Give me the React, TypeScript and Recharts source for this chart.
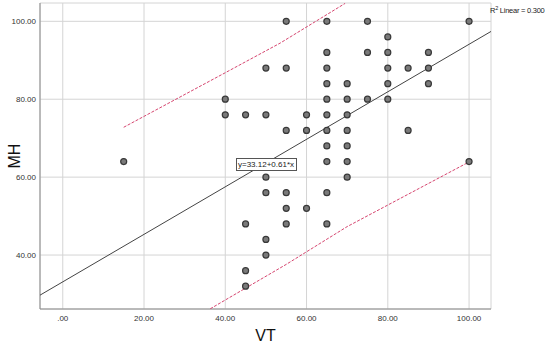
import {
  CartesianGrid,
  Scatter,
  ScatterChart,
  XAxis,
  YAxis,
} from "recharts";

// observed points (VT, MH) read column by column
const VT = [
  15,
  40, 40,
  45, 45, 45, 45,
  50, 50, 50, 50, 50, 50,
  55, 55, 55, 55, 55, 55,
  60, 60, 60,
  65, 65, 65, 65, 65, 65, 65, 65, 65, 65, 65,
  70, 70, 70, 70, 70, 70, 70,
  75, 75, 75,
  80, 80, 80, 80, 80,
  85, 85,
  90, 90, 90,
  100, 100,
];
const MH = [
  64,
  80, 76,
  76, 48, 36, 32,
  88, 76, 60, 56, 44, 40,
  100, 88, 72, 56, 52, 48,
  76, 72, 52,
  100, 92, 88, 84, 80, 76, 72, 68, 64, 56, 48,
  84, 80, 76, 72, 68, 64, 60,
  100, 92, 80,
  96, 92, 88, 84, 80,
  88, 72,
  92, 88, 84,
  100, 64,
];

// fit line (y=33.12+0.61*x) end points across the plot
const FIT_X = [-5.6, 105.4];
const FIT_Y = [29.7, 97.4];

// 95% individual prediction band
const UPPER_X = [15, 40, 53.5, 69.5];
const UPPER_Y = [72.8, 86.8, 94.4, 104.6];
const LOWER_X = [36.3, 55, 70, 100];
const LOWER_Y = [26.2, 37.6, 47.3, 63.9];

const X_TICKS = [0, 20, 40, 60, 80, 100];
const Y_TICKS = [40, 60, 80, 100];

const zip = (xs: number[], ys: number[]) => xs.map((x, i) => ({ x, y: ys[i] }));

const points = zip(VT, MH);
const fit = zip(FIT_X, FIT_Y);
const upper = zip(UPPER_X, UPPER_Y);
const lower = zip(LOWER_X, LOWER_Y);

const FONT = "'Liberation Sans', Arial, sans-serif";
const fmt = (v: number) => (v === 0 ? ".00" : v.toFixed(2));
const noShape = () => <g />;

const Dot = (props: any) => (
  <circle
    cx={props.cx}
    cy={props.cy}
    r={3}
    fill="#7a7a7a"
    stroke="#383838"
    strokeWidth={1.2}
  />
);

export default function App() {
  return (
    <div
      style={{
        position: "absolute",
        left: 0,
        top: 0,
        width: 550,
        height: 344,
        background: "#fff",
        fontFamily: FONT,
      }}
    >
      <ScatterChart
        width={550}
        height={344}
        margin={{ top: 3, right: 59, bottom: 0, left: 0 }}
      >
        <CartesianGrid stroke="#d4d4d4" strokeWidth={1} />
        <XAxis
          type="number"
          dataKey="x"
          domain={[-5.6, 105.4]}
          ticks={X_TICKS}
          tickFormatter={fmt}
          allowDataOverflow
          height={35}
          tickLine={false}
          tickSize={3}
          tickMargin={3}
          axisLine={{ stroke: "#8a8a8a" }}
          tick={{ fontSize: 8, fill: "#333", fontFamily: FONT }}
          label={{
            value: "VT",
            position: "insideBottom",
            offset: 3,
            style: { fontSize: 16, fill: "#111", fontFamily: FONT },
          }}
        />
        <YAxis
          type="number"
          dataKey="y"
          domain={[26.15, 104.7]}
          ticks={Y_TICKS}
          tickFormatter={fmt}
          allowDataOverflow
          width={40}
          tickLine={false}
          tickSize={2}
          tickMargin={2}
          axisLine={{ stroke: "#8a8a8a" }}
          tick={{ fontSize: 8, fill: "#333", fontFamily: FONT }}
          label={{
            value: "MH",
            angle: -90,
            position: "insideLeft",
            offset: 14,
            style: { fontSize: 16, fill: "#111", fontFamily: FONT, textAnchor: "middle" },
          }}
        />
        <Scatter
          data={upper}
          line={{ stroke: "#d6456f", strokeWidth: 1, strokeDasharray: "3 1.5" }}
          lineType="joint"
          shape={noShape}
          isAnimationActive={false}
        />
        <Scatter
          data={lower}
          line={{ stroke: "#d6456f", strokeWidth: 1, strokeDasharray: "3 1.5" }}
          lineType="joint"
          shape={noShape}
          isAnimationActive={false}
        />
        <Scatter
          data={fit}
          line={{ stroke: "#444", strokeWidth: 1 }}
          lineType="joint"
          shape={noShape}
          isAnimationActive={false}
        />
        <Scatter data={points} shape={Dot} isAnimationActive={false} />
      </ScatterChart>
      <div
        style={{
          position: "absolute",
          left: 235.5,
          top: 157.5,
          width: 59,
          height: 11,
          border: "1px solid #555",
          background: "#fff",
          fontSize: 8,
          lineHeight: "11px",
          textAlign: "center",
          color: "#222",
          whiteSpace: "nowrap",
        }}
      >
        y=33.12+0.61*x
      </div>
      <div
        style={{
          position: "absolute",
          left: 490,
          top: 6,
          fontSize: 7.5,
          letterSpacing: -0.25,
          lineHeight: "10px",
          color: "#222",
          whiteSpace: "nowrap",
        }}
      >
        R<sup style={{ fontSize: 5.5, verticalAlign: "3px", lineHeight: 0 }}>2</sup> Linear = 0.300
      </div>
    </div>
  );
}
